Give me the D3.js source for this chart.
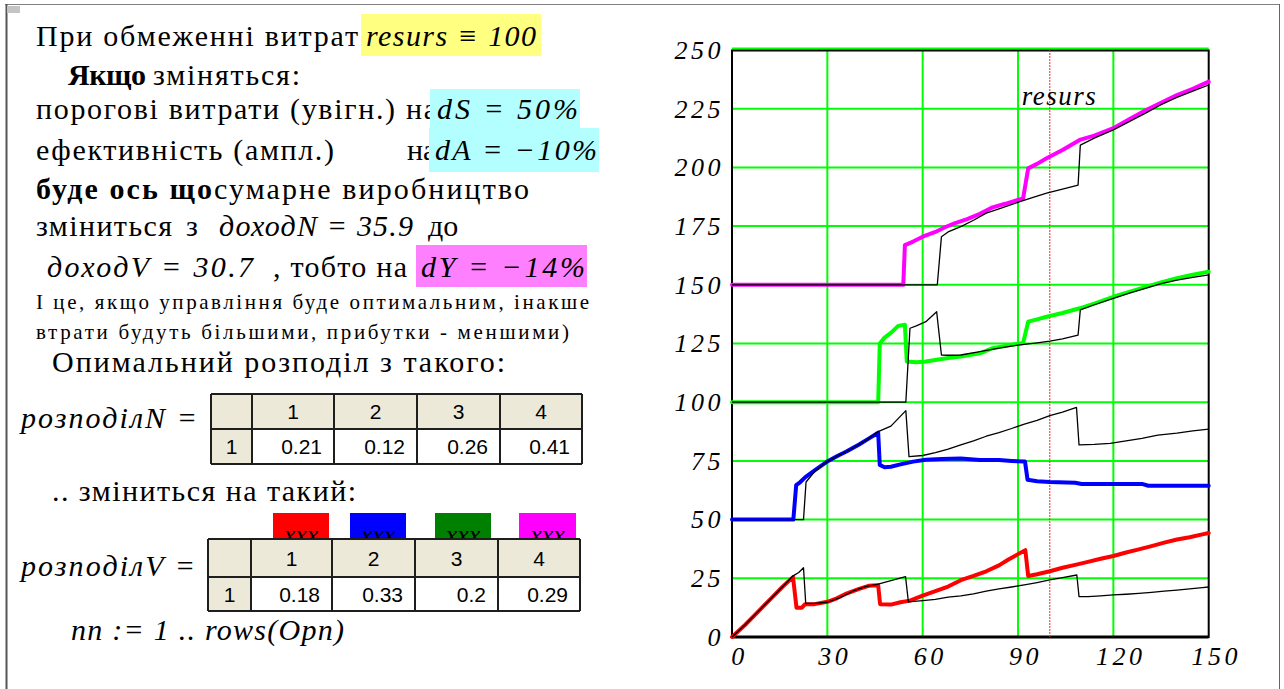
<!DOCTYPE html>
<html>
<head>
<meta charset="utf-8">
<script src="https://cdn.jsdelivr.net/npm/d3@7"></script>
<style>
  body { margin: 0; background: #fff; }
  svg { display: block; }
</style>
</head>
<body>
<svg id="sheet" width="1284" height="689"></svg>
<script>
// ---- chart values: [period, level] vertices of each trajectory ----
// V = new distribution (coloured), N = old distribution (black)
const redV = [[0,0],[4,5],[8,10.5],[12,16],[16,21.5],[19.2,25.5],[20.3,12.5],[22,12.5],[23,14],[26,14],[30,15],[33,16.5],[36,18.5],[40,20.5],[43,21.8],[46,22],[46.6,14],[50,13.8],[53,14.8],[56,15.5],[60,17.6],[64,19.5],[68,21.5],[72,24.2],[76,26],[80,28],[84,30.5],[87,33],[92.3,37],[93.2,26],[96,26.7],[100,28],[104,29.5],[108,30.7],[112,32],[116,33.3],[120,34.5],[124,36],[128,37.3],[132,38.7],[136,40.2],[140,41.5],[144,42.5],[148,43.7],[150,44.3]];
const redN = [[0,0],[4,5],[8,10.5],[12,16],[16,21.5],[19,25.8],[21,27.5],[22.5,29.5],[23.2,14.3],[26,14.3],[30,14.8],[34,16.8],[38,19.5],[42,21.5],[46,22.5],[50,24],[54.6,25.7],[55.5,15],[60,15.5],[64,16],[68,17],[72,17.5],[76,18.4],[80,19.5],[84,20.5],[88,21.3],[92,22.2],[96,23.2],[100,24.3],[104,25.3],[108.5,26.4],[109.2,17.2],[112,17.2],[116,17.5],[120,17.9],[124,18.2],[128,18.6],[132,19],[136,19.5],[140,20],[144,20.5],[148,21],[150,21.3]];
const blueV = [[0,50],[19.3,50],[20.2,64.7],[21.5,66],[23,68],[26,71],[29.7,74.5],[33,77],[36,79],[40,82],[43,84.5],[46,87],[46.5,73.3],[48,72.3],[50,72.5],[53,73.5],[57,74.7],[61,75.5],[66,75.8],[72,76],[78,75.4],[84,75.4],[88,75],[92.2,74.7],[93,67],[96,66.3],[100,66],[108,65.7],[110,65.2],[129,65.2],[131,64.4],[150,64.4]];
const blueN = [[0,50],[22.5,50],[23.3,66],[26,70.5],[29.7,74.5],[33,77],[36,79],[40,82],[43,84.5],[46,87.5],[50,89.8],[54.7,96.4],[55.7,76.8],[60,77.3],[64,78.5],[68,80],[72,81.8],[76,83.5],[80,85.5],[84,87],[88,88.8],[92,90.7],[96,92.3],[100,94.3],[104,95.8],[108.4,97.8],[109.2,81.8],[114,82],[119,82.5],[124,83.5],[129,84.6],[134,86],[140,86.8],[145,87.8],[150,88.5]];
const greenV = [[0,100],[46,100],[46.5,125],[48,127.5],[50,129.5],[52.3,132.5],[54.4,133],[55,117.3],[58,117],[61,117.3],[64,118],[68,118.8],[72,119.5],[78,120.8],[82,123],[86,124],[91.6,125.2],[93.2,134.3],[96,135.3],[99,136.4],[104,138],[109.4,140],[114,142],[120,144.9],[125,147],[130.5,149.2],[135,151],[140,152.8],[145,154.3],[150,155.6]];
const greenN = [[0,100],[54.7,100],[56,131.5],[58,132.5],[61,134.3],[64.4,138.5],[65.9,120.1],[68,120],[72,120.1],[78,121.5],[84,123],[90,124.3],[96,125.3],[100,126],[104,127],[108.9,128.6],[109.6,139.3],[114,141.5],[120,144.2],[125,146.5],[130,148.5],[135,150.5],[140,152],[145,153.2],[150,154.2]];
const magentaV = [[0,150],[53.9,150],[54.4,166.9],[57,168.4],[60,170.5],[64,172.5],[67,174.5],[70,176.2],[74,178],[78,180.2],[82,183],[86,184.5],[91.6,186.8],[93.2,199.6],[96,201.5],[99,203.9],[104,207.4],[109.4,211.7],[114,213.5],[120,216.7],[125,220.5],[130,224.2],[135,227.5],[140,230.8],[145,233.5],[150,236.5]];
const magentaN = [[0,150],[64.6,150],[65.9,170.5],[68,172.5],[72,174.8],[76,177.5],[80,180.5],[84,182.3],[90.6,185.4],[95,187.3],[99,189],[104,190.7],[108.9,192.5],[109.6,209.5],[114,212.5],[120,216],[125,219.5],[130,223],[135,226.7],[140,229.8],[145,232.5],[150,235.1]];

const xTicks = [0, 30, 60, 90, 120, 150];
const yTicks = [0, 25, 50, 75, 100, 125, 150, 175, 200, 225, 250];
const resurs = 100;

// distribution tables
const tableCols = [1, 2, 3, 4];
const distN = [0.21, 0.12, 0.26, 0.41];
const distV = [0.18, 0.33, 0.2, 0.29];

const seriesColors = ["#ff0000", "#0000ff", "#00ff00", "#ff00ff"];
const swatchColors = ["#ff0000", "#0000ff", "#008000", "#ff00ff"];

const SERIF = "'Liberation Serif','Times New Roman',serif";
const SANS = "'Liberation Sans',Arial,sans-serif";

const svg = d3.select("#sheet");
const defs = svg.append("defs");

// ---- worksheet frame ----
svg.append("line").attr("x1", 5).attr("x2", 1280).attr("y1", 4.5).attr("y2", 4.5)
  .attr("stroke", "#808080").attr("stroke-width", 1);
svg.append("line").attr("x1", 6.5).attr("x2", 6.5).attr("y1", 4).attr("y2", 689)
  .attr("stroke", "#555").attr("stroke-width", 2);
svg.append("line").attr("x1", 1279.5).attr("x2", 1279.5).attr("y1", 4).attr("y2", 689)
  .attr("stroke", "#666").attr("stroke-width", 1);
svg.append("rect").attr("x", 7).attr("y", 6).attr("width", 13).attr("height", 7).attr("fill", "#c4c4c4");

// ---- text helper ----
function put(x, y, s, o = {}) {
  const t = svg.append("text")
    .attr("x", x).attr("y", y)
    .attr("font-family", o.sans ? SANS : SERIF)
    .attr("font-size", o.size || 30)
    .attr("fill", "#000")
    .text(s);
  if (o.italic) t.attr("font-style", "italic");
  if (o.bold) t.attr("font-weight", "bold");
  if (o.anchor) t.attr("text-anchor", o.anchor);
  if (o.w) t.attr("textLength", o.w).attr("lengthAdjust", "spacing");
  return t;
}
function box(x0, y0, x1, y1, fill) {
  return svg.append("rect").attr("x", x0).attr("y", y0)
    .attr("width", x1 - x0).attr("height", y1 - y0).attr("fill", fill);
}

// ---- left column: plain prose ----
put(36, 46, "При обмеженні витрат", { w: 322 });
put(68, 85, "Якщо", { bold: true, w: 78 });
put(153, 85, "зміняться:", { w: 147 });
put(36, 119, "порогові витрати (увігн.) на", { w: 401 });
put(36, 160, "ефективність (ампл.)", { w: 298 });
put(407, 160, "на");
put(36, 199, "буде ось що", { bold: true, w: 176 });
put(214, 199, "сумарне виробництво", { w: 315 });
put(36, 236, "зміниться", { w: 136 });
put(186, 236, "з");
put(428, 236, "до");
put(273, 277, ", тобто на", { w: 134 });
put(36, 309, "І це, якщо управління буде оптимальним, інакше", { size: 21, w: 553 });
put(36, 339, "втрати будуть більшими, прибутки - меншими)", { size: 21, w: 533 });
put(52, 372, "Опимальний розподіл з такого:", { w: 453 });
put(52, 501, ".. зміниться на такий:", { w: 304 });

// highlighted regions
box(361, 14, 541, 56, "#ffff80");
box(430, 89, 580, 128, "#b3ffff");
box(429, 128, 599, 172, "#b3ffff");
box(416, 245, 587, 287, "#ff80ff");

// math expressions
put(366, 46, "resurs ≡ 100", { italic: true, w: 170 });
put(437, 119, "dS = 50%", { italic: true, w: 141 });
put(435, 160, "dA = −10%", { italic: true, w: 162 });
put(219, 236, "доходN = 35.9", { italic: true, w: 194 });
put(47, 277, "доходV = 30.7", { italic: true, w: 206 });
put(421, 277, "dY = −14%", { italic: true, w: 164 });
put(21, 428, "розподілN =", { italic: true, w: 176 });
put(21, 576, "розподілV =", { italic: true, w: 174 });
put(71, 640, "nn := 1 .. rows(Opn)", { italic: true, w: 273 });

// colour swatches above the second table; their captions are cut by the table edge
const swatchEdges = [[273, 329], [350, 406], [435, 491], [519, 576]];
swatchColors.forEach((c, i) => {
  const [a, b] = swatchEdges[i];
  box(a, 513, b, 539, c);
  defs.append("clipPath").attr("id", "sw" + i)
    .append("rect").attr("x", a).attr("y", 513).attr("width", b - a).attr("height", 26);
  put((a + b) / 2, 543, "xxx", { italic: true, size: 26, anchor: "middle" })
    .attr("clip-path", `url(#sw${i})`);
});

// ---- matrix tables ----
function drawTable(cols, rows, values) {
  const g = svg.append("g");
  const head = "#ece9d8";
  for (let c = 0; c < 5; c++) {
    g.append("rect").attr("x", cols[c]).attr("y", rows[0])
      .attr("width", cols[c + 1] - cols[c]).attr("height", rows[1] - rows[0]).attr("fill", head);
    g.append("rect").attr("x", cols[c]).attr("y", rows[1])
      .attr("width", cols[c + 1] - cols[c]).attr("height", rows[2] - rows[1]).attr("fill", c === 0 ? head : "#fff");
  }
  cols.forEach(x => g.append("line").attr("x1", x).attr("x2", x).attr("y1", rows[0]).attr("y2", rows[2])
    .attr("stroke", "#1e1e1e").attr("stroke-width", 2));
  rows.forEach(y => g.append("line").attr("x1", cols[0]).attr("x2", cols[5]).attr("y1", y).attr("y2", y)
    .attr("stroke", "#1e1e1e").attr("stroke-width", 2));
  const mid0 = (rows[0] + rows[1]) / 2 + 7.5, mid1 = (rows[1] + rows[2]) / 2 + 7.5;
  tableCols.forEach((k, i) => {
    g.append("text").attr("x", (cols[i + 1] + cols[i + 2]) / 2).attr("y", mid0)
      .attr("text-anchor", "middle").attr("font-family", SANS).attr("font-size", 21).text(k);
    g.append("text").attr("x", cols[i + 2] - 12).attr("y", mid1)
      .attr("text-anchor", "end").attr("font-family", SANS).attr("font-size", 21).text(values[i]);
  });
  g.append("text").attr("x", (cols[0] + cols[1]) / 2).attr("y", mid1)
    .attr("text-anchor", "middle").attr("font-family", SANS).attr("font-size", 21).text(1);
}
drawTable([211, 252, 334, 417, 500, 582], [394, 429, 464], distN);
drawTable([208, 251, 332, 415, 498, 580], [539, 577, 611], distV);

// ---- chart ----
const x = d3.scaleLinear().domain([0, 150]).range([732, 1208.7]);
const y = d3.scaleLinear().domain([0, 250]).range([637, 50]);

const grid = svg.append("g").attr("stroke", "#00ff00").attr("stroke-width", 2);
xTicks.filter(v => v > 0 && v < 150).forEach(v =>
  grid.append("line").attr("x1", x(v)).attr("x2", x(v)).attr("y1", y(0)).attr("y2", y(250)));
yTicks.filter(v => v > 0).forEach(v =>
  grid.append("line").attr("x1", x(0)).attr("x2", x(150))
    .attr("y1", y(v) - (v === 250 ? 1.5 : 0)).attr("y2", y(v) - (v === 250 ? 1.5 : 0)));

// plot frame
svg.append("rect").attr("x", x(0)).attr("y", y(250) + 0.5)
  .attr("width", x(150) - x(0)).attr("height", y(0) - y(250) - 0.5)
  .attr("fill", "none").attr("stroke", "#000").attr("stroke-width", 2);
svg.append("line").attr("x1", x(0)).attr("x2", x(150)).attr("y1", y(0)).attr("y2", y(0))
  .attr("stroke", "#000").attr("stroke-width", 3);

// resource limit marker
svg.append("line").attr("x1", x(resurs)).attr("x2", x(resurs)).attr("y1", y(250)).attr("y2", y(0))
  .attr("stroke", "#ff2020").attr("stroke-width", 1).attr("stroke-dasharray", "2,1");
svg.append("text").attr("x", x(resurs) - 28).attr("y", 105)
  .attr("font-family", SERIF).attr("font-style", "italic").attr("font-size", 27)
  .attr("letter-spacing", "1.5px").text("resurs");

// trajectories
const line = d3.line().x(d => x(d[0])).y(d => y(d[1]));
[redV, blueV, greenV, magentaV].forEach((s, i) =>
  svg.append("path").attr("d", line(s)).attr("fill", "none")
    .attr("stroke", seriesColors[i]).attr("stroke-width", 4)
    .attr("stroke-linejoin", "round").attr("stroke-linecap", "round"));
[redN, blueN, greenN, magentaN].forEach(s =>
  svg.append("path").attr("d", line(s)).attr("fill", "none")
    .attr("stroke", "#000").attr("stroke-width", 1.3).attr("stroke-linejoin", "round"));

// axes
function styleAxis(g) {
  g.select(".domain").remove();
  g.attr("font-family", SERIF).attr("font-size", 26).attr("color", "#000");
  g.selectAll("text").attr("font-style", "italic").attr("letter-spacing", "3.5px");
}
svg.append("g").attr("transform", `translate(0,${y(0)})`)
  .call(d3.axisBottom(x).tickValues(xTicks).tickSize(0).tickPadding(10).tickFormat(d3.format("d")))
  .call(styleAxis)
  .selectAll("text").attr("dx", 7);
svg.append("g").attr("transform", `translate(${x(0)},0)`)
  .call(d3.axisLeft(y).tickValues(yTicks).tickSize(0).tickPadding(8).tickFormat(d3.format("d")))
  .call(styleAxis);
</script>
</body>
</html>
